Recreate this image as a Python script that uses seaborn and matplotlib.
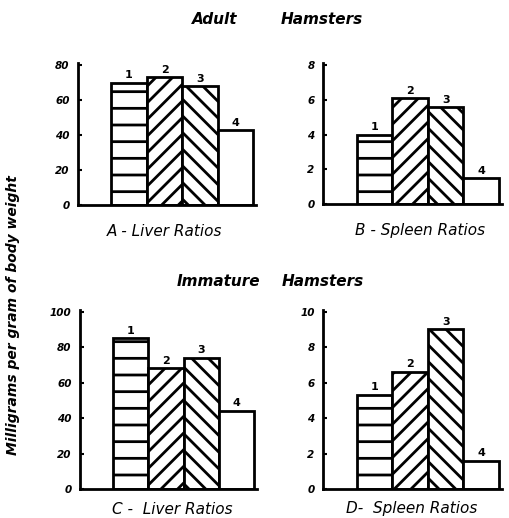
import matplotlib
matplotlib.use("Agg")
import matplotlib.pyplot as plt
import seaborn as sns
import pandas as pd

groups = ["1", "2", "3", "4"]
adult_liver = [70, 73, 68, 43]
adult_spleen = [4.0, 6.1, 5.6, 1.5]
immature_liver = [85, 68, 74, 44]
immature_spleen = [5.3, 6.6, 9.0, 1.6]

liver_ticks = [0, 20, 40, 60, 80]
spleen_ticks_adult = [0, 2, 4, 6, 8]
liver_ticks_imm = [0, 20, 40, 60, 80, 100]
spleen_ticks_imm = [0, 2, 4, 6, 8, 10]

hatches = ["-", "//", "\\\\", ""]

sns.set_theme(style="white")
plt.rcParams["font.family"] = ["DejaVu Sans"]
plt.rcParams["hatch.linewidth"] = 2.0
plt.rcParams["hatch.color"] = "black"
plt.rcParams["text.color"] = "black"
plt.rcParams["axes.labelcolor"] = "black"
plt.rcParams["ytick.color"] = "black"
plt.rcParams["xtick.color"] = "black"

fig = plt.figure(figsize=(5.1, 5.18), dpi=100)

W, H = 510, 518
def ax_at(l, r, b, t):
    return fig.add_axes([l / W, 1 - b / H, (r - l) / W, (b - t) / H])

panels = [
    (ax_at(78, 256, 205, 63), adult_liver, liver_ticks, 81.2, "A - Liver Ratios", (165, 232)),
    (ax_at(323, 502, 204, 63), adult_spleen, spleen_ticks_adult, 8.12, "B - Spleen Ratios", (420, 230)),
    (ax_at(80, 257, 489, 310), immature_liver, liver_ticks_imm, 101, "C -  Liver Ratios", (172, 510)),
    (ax_at(323, 502, 489, 310), immature_spleen, spleen_ticks_imm, 10.1, "D-  Spleen Ratios", (412, 508)),
]

for ax, vals, ticks, ytop, label, (lx, ly) in panels:
    df = pd.DataFrame({"group": groups, "value": vals})
    sns.barplot(data=df, x="group", y="value", ax=ax, color="white",
                edgecolor="black", linewidth=2, width=1.0, saturation=1)
    for p, h in zip(ax.patches, hatches):
        p.set_hatch(h)
        p.set_facecolor("white")
        p.set_edgecolor("black")
    for i, v in enumerate(vals):
        ax.text(i, v + ytop * 0.015, groups[i], ha="center", va="bottom",
                fontsize=8, fontweight="bold", color="black")
    ax.set_xlim(-1.44, 3.58)
    ax.set_ylim(0, ytop)
    ax.set_yticks(ticks)
    ax.set_yticklabels([str(t) for t in ticks], fontsize=7.5, fontweight="bold",
                       fontstyle="italic")
    ax.set_xticks([])
    ax.set_xlabel("")
    ax.set_ylabel("")
    for s in ["top", "right"]:
        ax.spines[s].set_visible(False)
    for s in ["left", "bottom"]:
        ax.spines[s].set_linewidth(2)
        ax.spines[s].set_color("black")
    ax.tick_params(axis="y", direction="in", length=3, width=1.5, pad=6,
                   left=True, colors="black")
    ax.set_facecolor("white")
    fig.text(lx / W, 1 - ly / H, label, ha="center", va="center",
             fontsize=11, fontstyle="italic", color="black")

fig.text(215 / W, 1 - 20 / H, "Adult", ha="center", va="center",
         fontsize=11, fontstyle="italic", fontweight="bold")
fig.text(322 / W, 1 - 20 / H, "Hamsters", ha="center", va="center",
         fontsize=11, fontstyle="italic", fontweight="bold")
fig.text(218 / W, 1 - 281 / H, "Immature", ha="center", va="center",
         fontsize=11, fontstyle="italic", fontweight="bold")
fig.text(323 / W, 1 - 282 / H, "Hamsters", ha="center", va="center",
         fontsize=11, fontstyle="italic", fontweight="bold")
fig.text(13 / W, 1 - 315 / H, "Milligrams per gram of body weight",
         rotation=90, ha="center", va="center", fontsize=10,
         fontstyle="italic", fontweight="bold")

fig.savefig("out.png", dpi=100, facecolor="white")
